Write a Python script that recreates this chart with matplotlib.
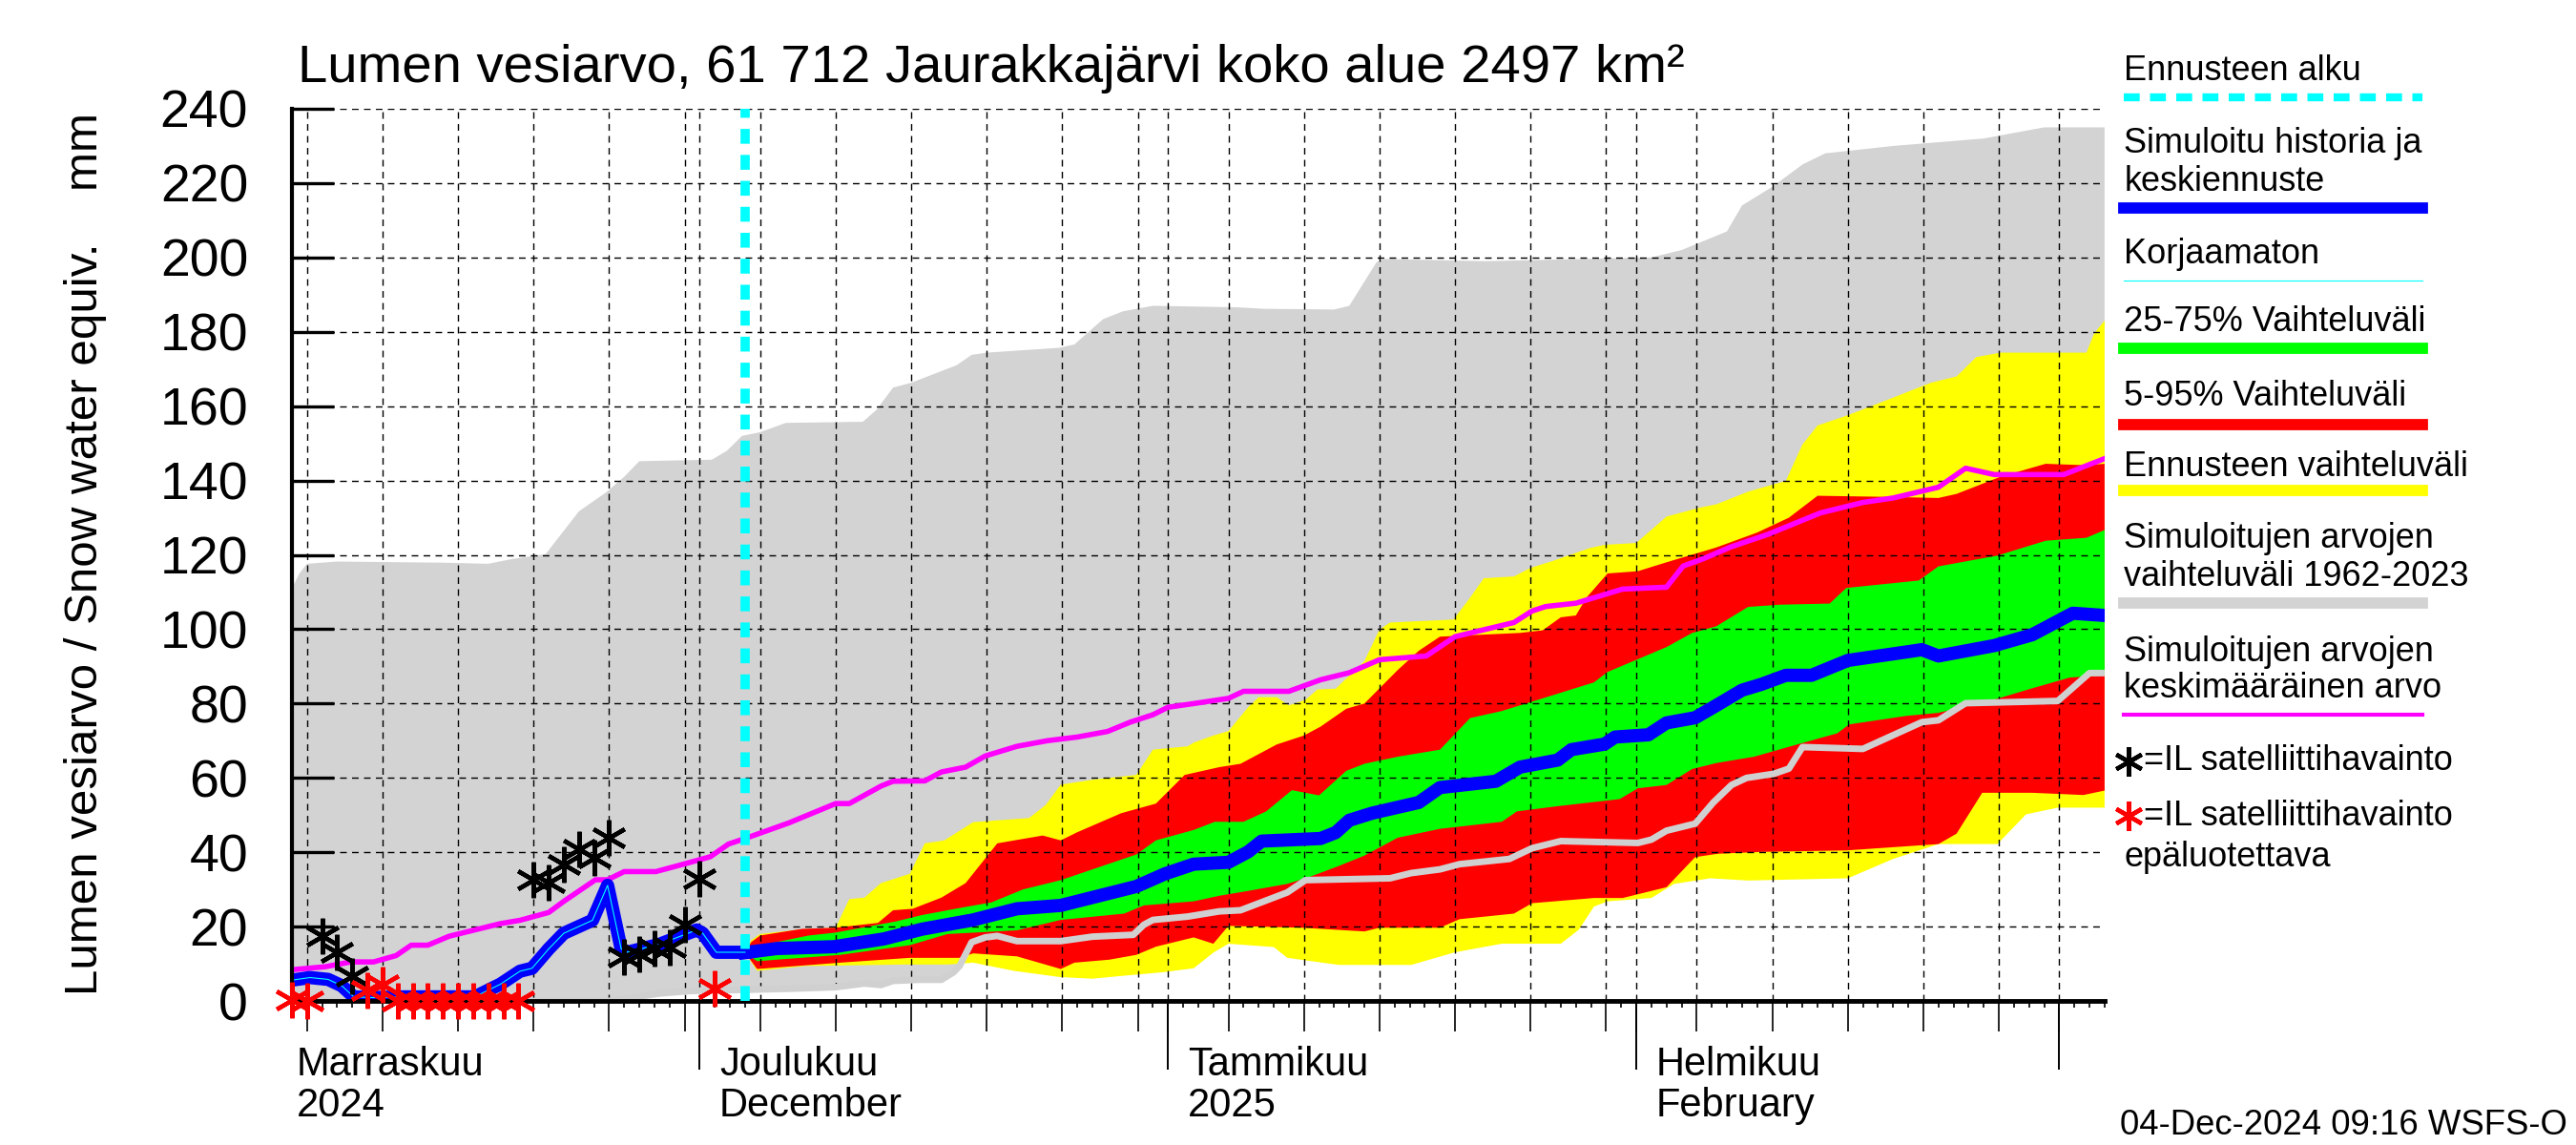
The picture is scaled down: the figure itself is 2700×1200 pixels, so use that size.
import datetime as dt
import numpy as np
import matplotlib
matplotlib.use('Agg')
import matplotlib.pyplot as plt
import matplotlib.dates as mdates
import matplotlib.transforms as mtransforms
from matplotlib.lines import Line2D

plt.rcParams['font.family'] = ['Liberation Sans', 'DejaVu Sans']

# day 0 = 4 Nov 2024, forecast starts 4 Dec 2024 (day 30)
start = dt.datetime(2024, 11, 4)
n_days = 120
forecast_day = 30

# simulated range 1962-2023 (upper edge)
gray_top_t = [0, 0.5, 1, 3, 10, 13, 14.6, 16.8, 19, 20.8, 22, 23, 27.8, 28.8, 29.8, 31, 32.7, 37.8,
              38.7, 39.8, 41, 44, 45, 46, 50.8, 51.8, 53.7, 55, 57, 62.6, 64.3, 69, 70, 71.8, 72.3,
              79, 90, 92, 95, 96, 98, 100, 101.5, 106, 112, 116, 120]
gray_top = [111, 115, 117.6, 118.2, 117.9, 117.6, 118.9, 120.2, 131.7, 136.8, 141, 145.2, 145.6, 148,
            152, 153, 155.5, 155.8, 159, 165, 166.3, 171, 173.8, 174.4, 175.7, 176.6, 183.4, 185.5,
            187, 186.6, 186.2, 186, 187, 198.7, 199.6, 199, 200, 202, 207, 214, 219, 225, 228, 230,
            232, 235, 235]

# simulated range 1962-2023 (lower edge, also drawn as a line)
gray_min_t = [0, 21, 22.2, 24.3, 26.4, 30, 33.1, 36, 37.9, 39, 39.8, 41.5, 43, 43.8, 44.2, 45, 45.9,
              46.7, 48, 50.9, 53, 55.7, 56.4, 57, 59.3, 61.4, 62.8, 65.9, 67.1, 72.7, 74.1, 76, 77.3,
              80.6, 82.1, 84, 89.1, 90, 91, 92.9, 94.1, 95.3, 96.3, 98.1, 99.1, 100, 104, 107.9, 109,
              110.8, 116.9, 119, 120]
gray_min = [0, 0, 0.7, 2, 2.7, 3, 3.3, 3.7, 4.7, 4.3, 5.4, 5.7, 5.7, 7.7, 9.4, 15.8, 17.1, 17.5, 16.1,
            16.1, 17.3, 17.8, 20.5, 21.8, 22.7, 24.1, 24.4, 29.2, 32.5, 33, 34.4, 35.4, 36.8, 38.2,
            41.1, 43, 42.5, 43.4, 45.8, 47.7, 53.4, 58.1, 60, 61.1, 62.5, 68.3, 67.8, 75, 75.5, 80.1,
            80.7, 88.2, 88.2]

# forecast range (yellow)
fc_max_t = [30, 30.4, 31, 33.8, 36, 36.9, 37.9, 39, 40.9, 41.9, 43.2, 45.1, 48.8, 49.9, 50.9, 53, 55.9,
            57, 59.3, 59.7, 61, 62, 63.3, 64, 65.2, 66, 67.1, 67.9, 69.1, 71, 72, 72.7, 76.9, 78, 78.9,
            80.9, 82, 83.5, 85.9, 86.9, 89, 91, 93.2, 94.3, 96.4, 98.9, 100, 101, 103.1, 106, 108.5,
            110.2, 111.5, 113.1, 118.8, 119.3, 120]
fc_max = [13, 16.3, 18, 19.3, 19.7, 27.4, 27.8, 31.7, 34.2, 42.4, 43.2, 48.1, 49.2, 52.7, 58.2, 59.5,
          60.8, 67.6, 68.5, 69.5, 71.4, 72.6, 79, 81.7, 81.7, 79.5, 81, 83.8, 84, 91.4, 99.9, 101.8,
          102.6, 108.5, 113.7, 114.2, 116.5, 118.4, 121.8, 122.7, 123.2, 130.3, 132.7, 133.6, 137,
          139.9, 149.7, 154.8, 157.7, 162.3, 166.3, 168, 173.2, 174.4, 174.4, 179.5, 183]
fc_min_t = [30, 30.8, 34, 40.5, 43.4, 45.1, 47.8, 50.9, 53, 55.1, 57.6, 59.7, 61, 62, 65, 65.9, 69.3,
            74.1, 77, 80.1, 84, 85.2, 86.2, 87.1, 90, 91.5, 93.9, 96.4, 103, 106, 109, 112.9, 114.8,
            116.9, 120]
fc_min = [13, 8.1, 9.4, 9.8, 9.8, 10.3, 8.1, 6.4, 6, 6.8, 7.7, 8.8, 13, 15.4, 14.5, 11.6, 9.7, 9.7,
          13.1, 15.4, 15.4, 19.2, 25.4, 26.8, 27.7, 31.5, 33, 32.4, 33, 38.2, 42.2, 42.2, 50.2, 52, 52]

# 5-95 % (red)
p95_t = [30, 30.4, 31, 33.8, 36, 38.8, 39.8, 41.1, 43, 44.6, 46.7, 49.7, 50.9, 52, 54.9, 57.2, 59.1,
         61.4, 62.8, 65.2, 67, 68.1, 69.8, 71, 73.2, 74.6, 76, 81.3, 82.8, 84, 85, 85.7, 87.1, 89.1,
         91, 92.9, 94.3, 97, 99.1, 101, 105.6, 109, 110.2, 113.1, 116.1, 118.8, 120]
p95 = [13, 15.8, 17.6, 19.4, 19.7, 21, 24.4, 24.8, 27.8, 31.7, 42.4, 44.5, 43.2, 45.4, 50.5, 53.1,
       60.8, 62.9, 63.8, 69, 71.4, 73.8, 78.6, 80, 89, 94.2, 98, 99, 99.7, 103.2, 103.7, 108.5, 115,
       115.6, 118, 120.3, 122, 126, 130, 135.9, 135.6, 135.3, 136.4, 141, 144.5, 144.1, 144.5]
p05_t = [30, 30.8, 36.3, 40.9, 44.2, 45.1, 48, 50.9, 51.8, 54.1, 55.9, 57.2, 59.7, 61, 62, 66.9, 71,
         72, 76, 77.3, 80.9, 82.1, 86.2, 88.1, 91, 92.9, 94.4, 97.3, 102.9, 109, 110.2, 111.9, 115.2,
         118.6, 120]
p05 = [13, 8.6, 10.3, 11.6, 11.6, 12.8, 12, 8.6, 10.3, 11.1, 12.4, 14.6, 17.1, 15.4, 20.2, 19.7, 18.7,
       19.7, 19.7, 22, 23.5, 26.3, 27.7, 27.7, 30.6, 38.7, 39.6, 40.1, 40.5, 42.2, 45, 56, 56, 55.4,
       56.6]

# 25-75 % (green)
p75_t = [30, 30.6, 34.2, 36, 40, 41.7, 44.6, 46.3, 48.4, 50.9, 55.9, 57.2, 59.7, 61.1, 63, 64.5, 66.2,
         68, 69.8, 71, 73.2, 76, 78, 80.1, 82.8, 86.2, 87.1, 91, 92.7, 94.3, 96.4, 98.5, 101.8, 102.9,
         107.7, 109, 112.9, 116.1, 118.8, 120]
p75 = [13, 14.6, 17.6, 18.4, 21.4, 23.1, 25.3, 26.5, 30, 32.5, 39.4, 43.2, 46, 48.2, 48.2, 51, 56.7,
       55.3, 61.9, 63.8, 65.7, 67.6, 76.1, 78, 81.4, 85.7, 88.5, 95.2, 99, 100.8, 106, 106.6, 106.9,
       111.1, 113.1, 116.9, 119.8, 123.8, 124.6, 126.7]
p25_t = [30, 30.8, 36.3, 40.9, 43.4, 48, 50.9, 55.1, 56.4, 59.7, 61.4, 63.3, 65.9, 67.4, 69.3, 71, 73.2,
         76, 80.1, 81.1, 83.8, 87.9, 89.1, 91, 92.7, 94.3, 96.8, 99.3, 102.3, 103.1, 106.9, 109, 112.9,
         115.2, 117.7, 120]
p25 = [13, 10.7, 12.4, 15, 18, 19, 21.8, 23.5, 25.7, 26.8, 28.3, 29.6, 31.5, 33.4, 36.3, 39.1, 43.9,
       46.3, 48.2, 51, 52.4, 54.3, 57.2, 58.1, 62.4, 64, 65.7, 68.6, 72, 74.4, 76.7, 77.5, 81.3, 84.1,
       87, 87.6]

# simulated history + median forecast (blue)
sim_t = [0, 1.2, 2.4, 3.3, 4.1, 5.4, 7.5, 12.1, 13.8, 15.1, 15.9, 17, 18, 19.9, 20.9, 21.8, 22.2, 24.3,
         26.8, 27.2, 28.1, 30]
sim = [5.6, 6.3, 5.8, 4.1, 1.1, 0.9, 1.1, 1.1, 4.5, 8, 8.8, 14, 18.2, 21.7, 31.1, 14, 13.1, 15.2, 19.1,
       18.2, 13.1, 13.1]
med_t = [30, 32.1, 35.9, 39.2, 41.7, 45.1, 48, 50.9, 55.9, 57.8, 59.7, 62, 63.3, 64.2, 68.1, 69.1, 70,
         71.5, 74.6, 76, 79.7, 81.3, 83.8, 84.7, 86.9, 87.6, 89.8, 91, 92.9, 94.3, 96, 97.3, 98.9,
         100.6, 103, 106.9, 107.9, 109, 112.7, 115.2, 117.9, 120]
med = [13, 14.1, 14.6, 16.7, 19.3, 21.8, 24.8, 25.7, 30.8, 34.2, 36.8, 37.3, 40.1, 43, 43.7, 45.3,
       48.6, 50.5, 53.4, 57.4, 59.1, 62.9, 64.8, 67.6, 69.1, 71, 71.6, 74.8, 76.2, 79.5, 83.6, 85.2,
       87.6, 87.6, 91.6, 93.9, 94.5, 92.8, 95.6, 98.5, 104.3, 103.7]

# mean of simulated values (magenta)
mean_t = [0, 2.2, 3.9, 5.4, 6.9, 7.9, 9, 10.4, 13.8, 15.1, 17, 18, 20.1, 20.9, 22, 24.1, 26.2, 27.7,
          28.9, 30, 32.9, 36, 36.9, 39, 39.8, 41.9, 43, 44.6, 45.9, 48, 50, 52, 54, 55.5, 57, 58, 59.7,
          62, 63, 66, 68.1, 70, 72, 75.1, 77, 80.9, 82.1, 83, 85, 88.1, 91, 92.1, 93.4, 95.3, 97.7,
          101.2, 104, 106, 109, 110.8, 112.7, 117.3, 120]
mean = [8.4, 9.2, 10.5, 10.5, 12.2, 15, 15, 17.4, 20.8, 21.7, 23.8, 26.8, 32.6, 32.6, 34.8, 34.8, 37.1,
        38.8, 42.2, 43.7, 47.9, 53.1, 53.1, 57.8, 59.1, 59.2, 61.6, 62.9, 65.9, 68.5, 70, 71, 72.5, 75,
        77, 79, 80, 81.4, 83.3, 83.3, 86.4, 88.3, 91.8, 92.8, 98, 101.8, 104.9, 106.1, 107, 110.8,
        111.3, 117, 118.9, 122.2, 125.5, 131.3, 134.1, 135.3, 138.2, 143.3, 141.6, 141.6, 145.9]

# satellite observations
obs_t = [2, 3, 4, 16, 17, 18, 19, 20, 21, 22, 23, 24, 25, 26, 27]
obs = [17.4, 13.1, 6.7, 32.6, 31.9, 36.6, 40.7, 38.4, 43.9, 11.8, 12.7, 14, 14.4, 20.6, 32.8]
bad_obs_t = [0, 1, 5, 6, 7, 8, 9, 10, 11, 12, 13, 14, 15, 28]
bad_obs = [0.3, 0, 2.8, 4.5, 0, 0, 0, 0, 0, 0, 0, 0, 0, 3.3]

month_top = ['Marraskuu', 'Joulukuu', 'Tammikuu', 'Helmikuu']
month_bottom = ['2024', 'December', '2025', 'February']
month_dates = [start, dt.datetime(2024, 12, 1), dt.datetime(2025, 1, 1), dt.datetime(2025, 2, 1)]

title = 'Lumen vesiarvo, 61 712 Jaurakkajärvi koko alue 2497 km²'
ylabel = 'Lumen vesiarvo / Snow water equiv.    mm'
stamp = '04-Dec-2024 09:16 WSFS-O'

t0 = mdates.date2num(start)


def d(t):
    return t0 + np.asarray(t, dtype=float)


def band(xt_hi, hi, xt_lo, lo):
    xs = np.concatenate([d(xt_hi), d(xt_lo)[::-1]])
    ys = np.concatenate([np.asarray(hi, float), np.asarray(lo, float)[::-1]])
    return xs, ys


fig = plt.figure(figsize=(27, 12), dpi=100)
ax = fig.add_axes([0.1133, 0.1258, 0.7037, 0.7792])

GRAY = '#d3d3d3'
ax.fill(*band(gray_top_t, gray_top, gray_min_t, gray_min), color=GRAY, lw=0, zorder=1)
ax.fill(*band(fc_max_t, fc_max, fc_min_t, fc_min), color='#ffff00', lw=0, zorder=1.1)
ax.fill(*band(p95_t, p95, p05_t, p05), color='#ff0000', lw=0, zorder=1.2)
ax.fill(*band(p75_t, p75, p25_t, p25), color='#00ff00', lw=0, zorder=1.3)

ax.plot(d(gray_min_t), gray_min, color='#d0d0d0', lw=5, zorder=2, solid_capstyle='butt')
ax.plot(d(mean_t), mean, color='#ff00ff', lw=4, zorder=2.2)
ax.plot(d(sim_t), sim, color='#0000ff', lw=10, zorder=2.4)
ax.plot(d(med_t), med, color='#0000ff', lw=10, zorder=2.4)
ax.plot(d(sim_t), sim, color='#00ffff', lw=0.8, zorder=2.5)
ax.axvline(d(forecast_day), color='#00ffff', lw=7, ls=(0, (1.6, 1.2)), zorder=2.6)

ast = (6, 2, 0)
ax.plot(d(obs_t), obs, ls='none', marker=ast, ms=27, mew=3.2, color='black', zorder=5, clip_on=False)
ax.plot(d(bad_obs_t), bad_obs, ls='none', marker=ast, ms=27, mew=3.2, color='#ff0000', zorder=5,
        clip_on=False)

ax.set_xlim(d(0), d(n_days))
ax.set_ylim(0, 240)
ax.set_yticks(np.arange(0, 241, 20))
ax.tick_params(axis='y', direction='in', length=32, width=2.4, labelsize=40, pad=33)

ax.xaxis.set_major_locator(mdates.DayLocator(bymonthday=[1, 5, 10, 15, 20, 25, 30]))
ax.xaxis.set_minor_locator(mdates.DayLocator())
ax.tick_params(axis='x', which='major', direction='out', length=23, width=1.2, labelbottom=False)
ax.tick_params(axis='x', which='minor', direction='out', length=5, width=1.2)

sec = ax.secondary_xaxis('bottom')
sec.xaxis.set_major_locator(mdates.MonthLocator())
sec.tick_params(axis='x', length=52, width=1.4, labelbottom=False)
sec.spines['bottom'].set_visible(False)

ax.set_axisbelow('line')
ax.grid(True, which='major', color='black', ls=(0, (5, 4)), lw=1.0)
for s in ['top', 'right']:
    ax.spines[s].set_visible(False)
ax.spines['left'].set_linewidth(3)
ax.spines['bottom'].set_linewidth(3.5)

lbl = mtransforms.blended_transform_factory(ax.transData, fig.transFigure)
for i, (top, bot, md) in enumerate(zip(month_top, month_bottom, month_dates)):
    x = mdates.date2num(md) + (0.3 if i == 0 else 1.3)
    ax.text(x, 0.061, top, transform=lbl, fontsize=30, ha='left', va='baseline')
    ax.text(x, 0.025, bot, transform=lbl, fontsize=30, ha='left', va='baseline')

fig.text(0.1155, 0.928, title, fontsize=40.5, ha='left', va='baseline')
fig.text(0.033, 0.516, ylabel, fontsize=35.5, rotation=90, ha='center', va='center')
fig.text(0.9967, 0.009, stamp, fontsize=26.3, ha='right', va='baseline')

# legend drawn by hand on the right
def fy(y):
    return 1 - y / 693.3


lx0, lx1 = 0.8245, 0.9405
legend_items = [
    (['Ennusteen alku'], [43], 59, dict(color='#00ffff', lw=6, ls=(0, (2, 1.3)))),
    (['Simuloitu historia ja', 'keskiennuste'], [87, 110], 126, dict(color='#0000ff', lw=8.5)),
    (['Korjaamaton'], [154], 170, dict(color='#00ffff', lw=0.8)),
    (['25-75% Vaihteluväli'], [195], 211, dict(color='#00ff00', lw=8.5)),
    (['5-95% Vaihteluväli'], [240], 257, dict(color='#ff0000', lw=8.5)),
    (['Ennusteen vaihteluväli'], [283], 297, dict(color='#ffff00', lw=8.5)),
    (['Simuloitujen arvojen', 'vaihteluväli 1962-2023'], [326, 349], 365, dict(color=GRAY, lw=8.5)),
    (['Simuloitujen arvojen', 'keskimääräinen arvo'], [395, 417], 433, dict(color='#ff00ff', lw=3)),
]
for texts, ys, ly, style in legend_items:
    for txt, y in zip(texts, ys):
        fig.text(lx0, fy(y), txt, fontsize=26, ha='left', va='center')
    fig.add_artist(Line2D([lx0, lx1], [fy(ly), fy(ly)], transform=fig.transFigure, **style))

fig.add_artist(Line2D([0.8262], [fy(461)], transform=fig.transFigure, marker=ast, ms=22, mew=3.2,
                      color='black', ls='none'))
fig.text(0.8322, fy(461), '=IL satelliittihavainto', fontsize=26, ha='left', va='center')
fig.add_artist(Line2D([0.8262], [fy(494)], transform=fig.transFigure, marker=ast, ms=22, mew=3.2,
                      color='#ff0000', ls='none'))
fig.text(0.8322, fy(494), '=IL satelliittihavainto', fontsize=26, ha='left', va='center')
fig.text(lx0, fy(519), 'epäluotettava', fontsize=26, ha='left', va='center')

fig.savefig('out.png', dpi=100)
